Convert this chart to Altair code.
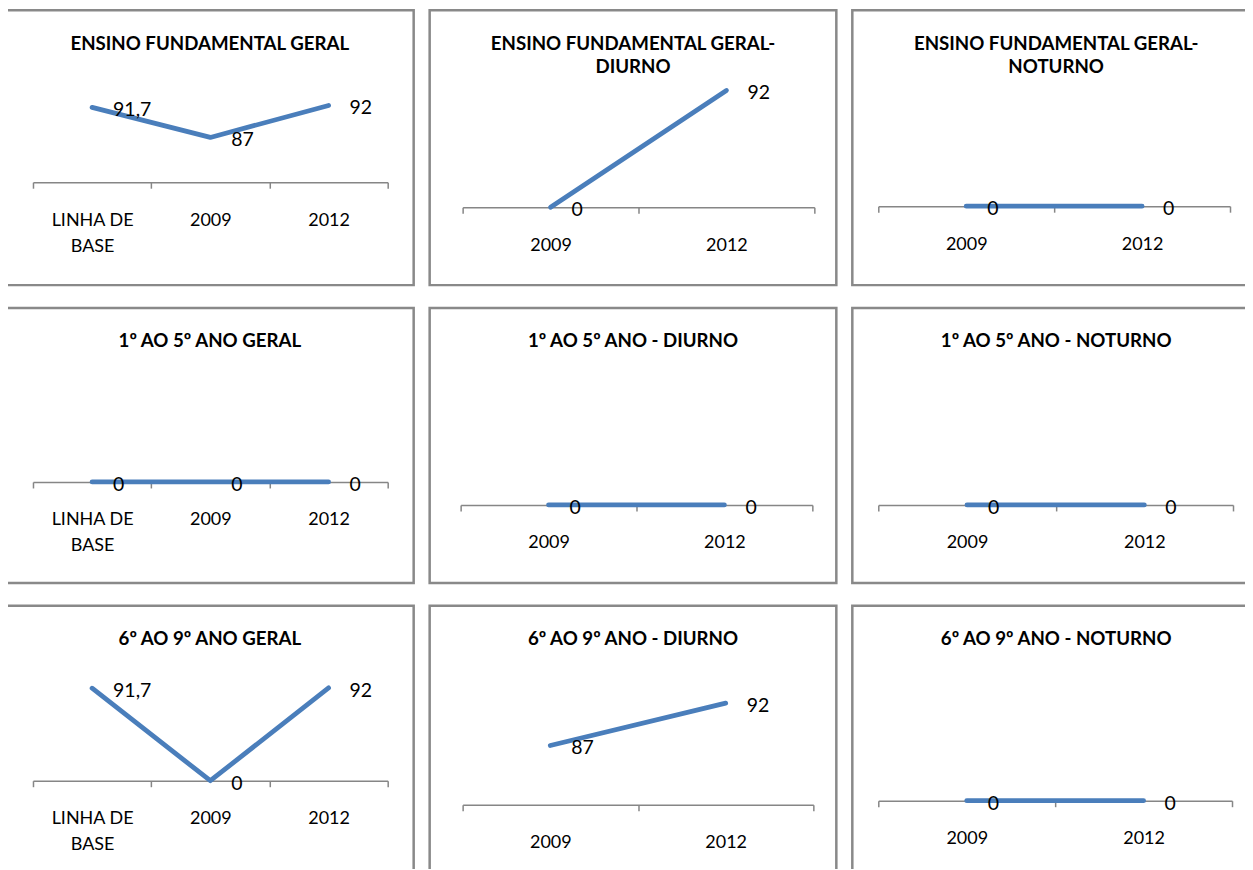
import altair as alt
import pandas as pd

# ---------------- data ----------------
titles = [
    ["ENSINO FUNDAMENTAL GERAL"],
    ["ENSINO FUNDAMENTAL GERAL-", "DIURNO"],
    ["ENSINO FUNDAMENTAL GERAL-", "NOTURNO"],
    ["1º AO 5º ANO GERAL"],
    ["1º AO 5º ANO - DIURNO"],
    ["1º AO 5º ANO - NOTURNO"],
    ["6º AO 9º ANO GERAL"],
    ["6º AO 9º ANO - DIURNO"],
    ["6º AO 9º ANO - NOTURNO"],
]
cats3 = ["LINHA DE BASE", "2009", "2012"]
cats2 = ["2009", "2012"]
panel_categories = [cats3, cats2, cats2, cats3, cats2, cats2, cats3, cats2, cats2]
panel_values = [
    [91.7, 87, 92],
    [0, 92],
    [0, 0],
    [0, 0, 0],
    [0, 0],
    [0, 0],
    [91.7, 0, 92],
    [87, 92],
    [0, 0],
]

# ---------------- layout / style ----------------
FONT = "Lato"
BLUE = "#4a7ebb"
GRAY = "#868686"
col_widths = [408, 407, 408]
row_heights = [275, 275, 275]
TITLE_LINE = 23
# x range (px inside panel), axis y (px), y domain, y value->px top
layout = [
    dict(xr=[27, 382], ay=172, yd=[80, 100], yt=44),
    dict(xr=[33, 385], ay=197, yd=[0, 100], yt=70),
    dict(xr=[26, 378], ay=196, yd=[0, 1], yt=96),
    dict(xr=[27, 382], ay=174, yd=[0, 1], yt=74),
    dict(xr=[31, 383], ay=197, yd=[0, 1], yt=97),
    dict(xr=[26, 381], ay=197, yd=[0, 1], yt=97),
    dict(xr=[27, 382], ay=175, yd=[0, 100], yt=74),
    dict(xr=[33, 384], ay=199, yd=[80, 95], yt=72),
    dict(xr=[26, 380], ay=195, yd=[0, 1], yt=95),
]


def panel(i):
    lay = layout[i]
    H = row_heights[i // 3]
    W = col_widths[i % 3]
    cats = panel_categories[i]
    df = pd.DataFrame({"cat": cats, "value": panel_values[i]})
    x = alt.X(
        "cat:N",
        sort=cats,
        scale=alt.Scale(type="band", domain=cats, range=lay["xr"],
                        paddingInner=0, paddingOuter=0),
        axis=alt.Axis(
            title=None, orient="bottom", offset=lay["ay"] - H,
            tickBand="extent", labelAngle=0,
            labelExpr="datum.label == 'LINHA DE BASE' ? ['LINHA DE', 'BASE'] : datum.label",
            labelFont=FONT, labelFontSize=18, labelColor="black",
            labelLineHeight=26, labelPadding=23, labelOverlap=False,
            labelBound=False, labelFlush=False,
            tickSize=6, tickColor=GRAY, tickWidth=1.5,
            domainColor=GRAY, domainWidth=1.5, grid=False, zindex=0,
        ),
    )
    y = alt.Y("value:Q", scale=alt.Scale(domain=lay["yd"], range=[lay["ay"], lay["yt"]]),
              axis=None)
    base = alt.Chart(df).encode(x=x, y=y)
    line = base.mark_line(color=BLUE, strokeWidth=4.8, strokeCap="round",
                          strokeJoin="round")
    text = base.transform_calculate(
        label="replace(toString(datum.value), '.', ',')"
    ).mark_text(align="left", baseline="middle", dx=21, dy=3, fontSize=19.5,
                font=FONT, color="black").encode(text="label:N")
    nlines = len(titles[i])
    return alt.layer(line, text).properties(
        width=W, height=H,
        title=alt.TitleParams(
            text=titles[i], offset=-43 - TITLE_LINE * (nlines - 1), baseline="top",
            anchor="middle", font=FONT, fontSize=18.7, fontWeight="bold",
            color="black", lineHeight=TITLE_LINE, frame="group",
        ),
    )


chart = alt.concat(*[panel(i) for i in range(9)], columns=3,
                   spacing={"row": 23, "column": 16}, bounds="flush").properties(
    padding={"left": -4, "top": 0, "right": -17, "bottom": -14}
).configure_view(stroke="#898989", strokeWidth=2.5, fill="white")

chart.save("out.html", embed_options={"renderer": "svg", "actions": False})
